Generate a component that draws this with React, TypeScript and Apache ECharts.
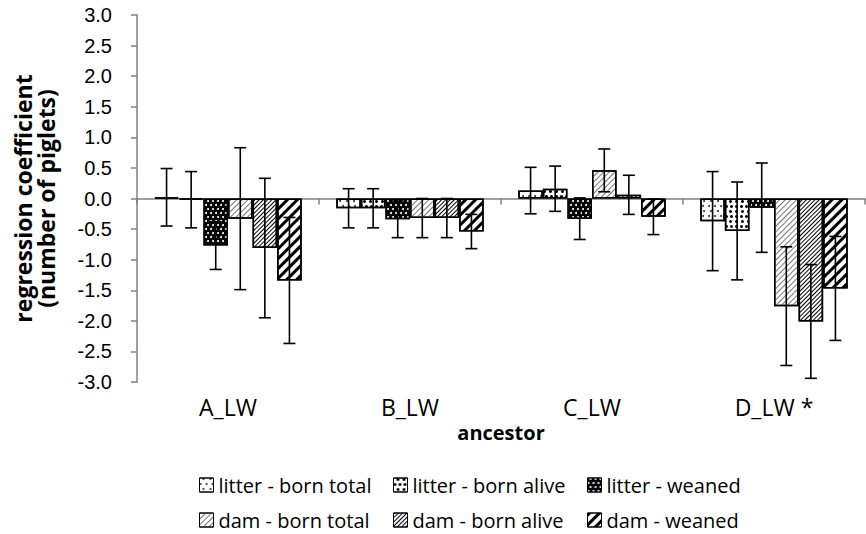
import React, { useEffect, useRef } from "react";
import * as echarts from "echarts";

const categories = ["A_LW", "B_LW", "C_LW", "D_LW *"];
const seriesNames = [
  "litter - born total",
  "litter - born alive",
  "litter - weaned",
  "dam - born total",
  "dam - born alive",
  "dam - weaned",
];
const litterBornTotal = [0.02, -0.16, 0.13, -0.37];
const litterBornAlive = [-0.02, -0.16, 0.16, -0.53];
const litterWeaned = [-0.77, -0.34, -0.33, -0.15];
const damBornTotal = [-0.33, -0.32, 0.46, -1.76];
const damBornAlive = [-0.81, -0.32, 0.06, -2.01];
const damWeaned = [-1.34, -0.54, -0.3, -1.47];

const litterBornTotalErr = [0.47, 0.32, 0.38, 0.81];
const litterBornAliveErr = [0.46, 0.32, 0.37, 0.8];
const litterWeanedErr = [0.39, 0.3, 0.34, 0.73];
const damBornTotalErr = [1.16, 0.32, 0.35, 0.97];
const damBornAliveErr = [1.14, 0.32, 0.32, 0.93];
const damWeanedErr = [1.03, 0.28, 0.29, 0.85];

const yTicks = [-3, -2.5, -2, -1.5, -1, -0.5, 0, 0.5, 1, 1.5, 2, 2.5, 3];

const values = [litterBornTotal, litterBornAlive, litterWeaned, damBornTotal, damBornAlive, damWeaned];
const errors = [litterBornTotalErr, litterBornAliveErr, litterWeanedErr, damBornTotalErr, damBornAliveErr, damWeanedErr];

const fills = ["#fff", "#fff", "#000", "#fff", "#fff", "#fff"];
const decals: any[] = [
  { symbol: "circle", symbolSize: 1, color: "#333", dashArrayX: [[1.2, 3.8], [0, 2.5, 1.2, 1.3]], dashArrayY: [1.2, 2.3] },
  { symbol: "circle", symbolSize: 1, color: "#000", dashArrayX: [[2.4, 1.8], [0, 2.1, 2.4, 0]], dashArrayY: [2.4, 1.1] },
  { symbol: "circle", symbolSize: 1, color: "#fff", dashArrayX: [[1.2, 2.8], [0, 2, 1.2, 0.8]], dashArrayY: [1.2, 1.8] },
  { symbol: "rect", symbolSize: 1, color: "#777", dashArrayX: [1, 0], dashArrayY: [1, 3], rotation: -Math.PI / 4 },
  { symbol: "rect", symbolSize: 1, color: "#000", dashArrayX: [1, 0], dashArrayY: [1, 1.8], rotation: -Math.PI / 4 },
  { symbol: "rect", symbolSize: 1, color: "#000", dashArrayX: [1, 0], dashArrayY: [2.5, 4], rotation: -Math.PI / 4 },
];

const legendPos = [
  [199, 475],
  [393, 475],
  [587, 475],
  [199, 510],
  [393, 510],
  [587, 510],
];

export default function App() {
  const ref = useRef<HTMLDivElement>(null);
  useEffect(() => {
    if (!ref.current) return;
    const chart = echarts.init(ref.current, undefined, { renderer: "svg" });
    const nBars = seriesNames.length;
    const gapRatio = 0.19;
    const errData: any[] = [];
    values.forEach((arr, si) => {
      arr.forEach((v, ci) => {
        errData.push([ci, si, v, errors[si][ci]]);
      });
    });
    const option: any = {
      animation: false,
      grid: { left: 137, top: 15, width: 728, height: 367, containLabel: false },
      legend: seriesNames.map((n, i) => ({
        data: [n],
        left: legendPos[i][0],
        top: legendPos[i][1],
        padding: 0,
        icon: "rect",
        itemWidth: 14,
        itemHeight: 14,
        itemStyle: { borderColor: "#000", borderWidth: 1 },
        textStyle: { fontFamily: "Open Sans", fontSize: 20, lineHeight: 20, color: "#000" },
        selectedMode: false,
      })),
      xAxis: [
        {
          type: "category",
          data: categories,
          position: "bottom",
          axisLine: { onZero: true, lineStyle: { color: "#808080", width: 1.5 } },
          axisTick: { show: true, length: 6, lineStyle: { color: "#808080", width: 1.5 } },
          axisLabel: { show: false },
        },
        {
          type: "category",
          data: categories,
          position: "bottom",
          axisLine: { show: false, onZero: false },
          axisTick: { show: false },
          axisLabel: { show: true, margin: 13, fontFamily: "Open Sans", fontSize: 23, color: "#000" },
          name: "ancestor",
          nameLocation: "middle",
          nameGap: 26,
          nameTextStyle: { fontFamily: "Open Sans", fontSize: 20, fontWeight: "bold", color: "#000" },
        },
      ],
      yAxis: {
        type: "value",
        min: -3,
        max: 3,
        interval: 0.5,
        axisLine: { show: true, lineStyle: { color: "#808080", width: 1.5 } },
        axisTick: { show: true, length: 6, lineStyle: { color: "#808080", width: 1.5 } },
        splitLine: { show: false },
        axisLabel: {
          margin: 25,
          fontFamily: "Liberation Sans",
          fontSize: 20,
          color: "#000",
          formatter: (v: number) => (yTicks.includes(v) ? v.toFixed(1) : ""),
        },
        name: "regression coefficient\n(number of piglets)",
        nameLocation: "middle",
        nameRotate: 90,
        nameGap: 80,
        nameTextStyle: { fontFamily: "Open Sans", fontSize: 23, fontWeight: "bold", color: "#000", lineHeight: 23 },
      },
      series: [
        ...seriesNames.map((n, i) => ({
          name: n,
          type: "bar",
          xAxisIndex: 0,
          data: values[i],
          barGap: "0%",
          barCategoryGap: gapRatio * 100 + "%",
          itemStyle: { color: fills[i], borderColor: "#000", borderWidth: 1.5, decal: decals[i] },
          emphasis: { disabled: true },
        })),
        {
          type: "custom",
          xAxisIndex: 0,
          z: 10,
          silent: true,
          data: errData,
          encode: { x: 0, y: 2 },
          renderItem: (params: any, api: any) => {
            const ci = api.value(0);
            const si = api.value(1);
            const v = api.value(2);
            const e = api.value(3);
            const catW = api.size([1, 0])[0];
            const bw = (catW * (1 - gapRatio)) / nBars;
            const c = api.coord([ci, v]);
            const x = c[0] + (si - (nBars - 1) / 2) * bw;
            const top = api.coord([ci, v + e])[1];
            const bot = api.coord([ci, v - e])[1];
            const cap = 6;
            const st = { stroke: "#000", lineWidth: 1.6 };
            return {
              type: "group",
              children: [
                { type: "line", shape: { x1: x, y1: top, x2: x, y2: bot }, style: st },
                { type: "line", shape: { x1: x - cap, y1: top, x2: x + cap, y2: top }, style: st },
                { type: "line", shape: { x1: x - cap, y1: bot, x2: x + cap, y2: bot }, style: st },
              ],
            };
          },
        },
      ],
    };
    chart.setOption(option);
    return () => chart.dispose();
  }, []);
  return (
    <div
      ref={ref}
      style={{ position: "fixed", left: 0, top: 0, width: 866, height: 534, background: "#fff" }}
    />
  );
}
